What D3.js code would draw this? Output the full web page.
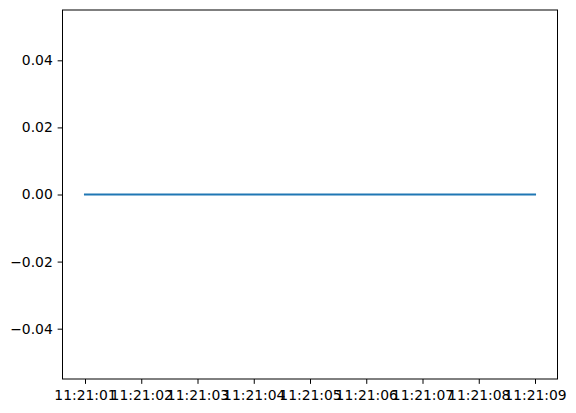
<!DOCTYPE html>
<html><head><meta charset="utf-8">
<script src="https://cdn.jsdelivr.net/npm/d3@7"></script>
<style>body{margin:0;background:#fff}svg{display:block}text{font-family:"DejaVu Sans";fill:#000}</style>
</head><body><svg id="c" width="576" height="413"></svg>
<script>
const times = ["11:21:01","11:21:02","11:21:03","11:21:04","11:21:05","11:21:06","11:21:07","11:21:08","11:21:09"];
const values = [0,0,0,0,0,0,0,0,0];
const yTicks = [-0.04,-0.02,0.00,0.02,0.04];
const yDomain = [-0.055,0.055];

const parse = d3.timeParse("%H:%M:%S");
const dates = times.map(parse);
const data = dates.map((d,i)=>({t:d,v:values[i]}));
const L=62.5,R=557.5,T=10,B=379;
const svg=d3.select("#c");
const span = dates[dates.length-1]-dates[0];
const x=d3.scaleTime().domain([new Date(+dates[0]-span*0.05), new Date(+dates[dates.length-1]+span*0.05)]).range([L,R]);
const y=d3.scaleLinear().domain(yDomain).range([B,T]);
const fs=13.9, tk=4.86;
const xa=svg.append("g").attr("transform",`translate(0,${B})`)
  .call(d3.axisBottom(x).tickValues(dates).tickFormat(d3.timeFormat("%H:%M:%S")).tickSizeInner(tk).tickSizeOuter(0).tickPadding(tk+1));
const ya=svg.append("g").attr("transform",`translate(${L},0)`)
  .call(d3.axisLeft(y).tickValues(yTicks).tickFormat(d=>d3.format(".2f")(d).replace("-","\u2212")).tickSizeInner(tk).tickSizeOuter(0).tickPadding(tk));
[xa,ya].forEach(a=>{a.select(".domain").remove();a.selectAll("line").attr("stroke","#000").attr("stroke-width",1);a.selectAll("text").attr("font-size",fs).attr("font-family","DejaVu Sans").attr("fill","#000");});
svg.append("path").datum(data).attr("fill","none").attr("stroke","#1f77b4").attr("stroke-width",2.08).attr("stroke-linecap","square")
  .attr("d",d3.line().x(d=>x(d.t)).y(d=>y(d.v)));
svg.append("rect").attr("x",L).attr("y",T).attr("width",R-L).attr("height",B-T).attr("fill","none").attr("stroke","#000").attr("stroke-width",1);
</script></body></html>
